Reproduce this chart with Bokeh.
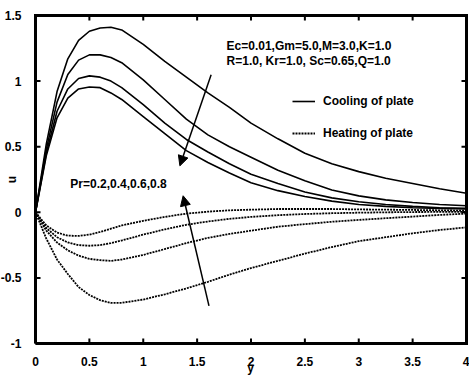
from bokeh.plotting import figure
from bokeh.models import (Range1d, LinearAxis, FixedTicker, Arrow, Label,
                          NormalHead, Legend, LegendItem)
from bokeh.embed import file_html
from bokeh.resources import INLINE

# ---------------- data ----------------
y_grid = [0, 0.1, 0.2, 0.3, 0.4, 0.5, 0.6, 0.7, 0.8, 1.0, 1.2, 1.4, 1.6, 1.8,
          2.0, 2.25, 2.5, 2.75, 3.0, 3.25, 3.5, 3.75, 4.0]

# Cooling of plate (solid), Pr = 0.2, 0.4, 0.6, 0.8
cool_pr02 = [0, 0.52, 0.92, 1.17, 1.31, 1.38, 1.405, 1.41, 1.39, 1.28, 1.15, 1.03,
             0.91, 0.80, 0.68, 0.56, 0.45, 0.37, 0.31, 0.26, 0.22, 0.18, 0.145]
cool_pr04 = [0, 0.48, 0.84, 1.05, 1.16, 1.20, 1.20, 1.18, 1.14, 1.01, 0.86, 0.71,
             0.59, 0.50, 0.42, 0.32, 0.24, 0.17, 0.125, 0.095, 0.075, 0.06, 0.05]
cool_pr06 = [0, 0.45, 0.77, 0.94, 1.02, 1.04, 1.03, 1.00, 0.95, 0.82, 0.68, 0.555,
             0.46, 0.37, 0.29, 0.22, 0.155, 0.11, 0.08, 0.06, 0.045, 0.035, 0.03]
cool_pr08 = [0, 0.43, 0.72, 0.87, 0.94, 0.955, 0.95, 0.91, 0.86, 0.73, 0.60, 0.47,
             0.38, 0.30, 0.225, 0.165, 0.12, 0.085, 0.06, 0.045, 0.035, 0.03, 0.025]

# Heating of plate (dotted), Pr = 0.2, 0.4, 0.6, 0.8
heat_pr02 = [0, -0.10, -0.155, -0.178, -0.18, -0.17, -0.15, -0.125, -0.10, -0.065,
             -0.035, -0.01, 0.005, 0.015, 0.02, 0.025, 0.025, 0.025, 0.022, 0.02,
             0.018, 0.015, 0.012]
heat_pr04 = [0, -0.12, -0.19, -0.23, -0.25, -0.255, -0.25, -0.235, -0.215, -0.17,
             -0.13, -0.095, -0.07, -0.05, -0.035, -0.022, -0.013, -0.007, -0.003,
             0.0, 0.002, 0.003, 0.004]
heat_pr06 = [0, -0.14, -0.23, -0.29, -0.33, -0.355, -0.365, -0.37, -0.36, -0.325,
             -0.28, -0.235, -0.195, -0.165, -0.14, -0.11, -0.09, -0.072, -0.058,
             -0.045, -0.033, -0.02, -0.01]
heat_pr08 = [0, -0.20, -0.36, -0.47, -0.57, -0.63, -0.67, -0.69, -0.69, -0.665,
             -0.625, -0.58, -0.53, -0.475, -0.425, -0.37, -0.315, -0.265, -0.22,
             -0.19, -0.16, -0.135, -0.115]

x_ticks = [0, 0.5, 1, 1.5, 2, 2.5, 3, 3.5, 4]
x_tick_labels = ["0", "0.5", "1", "1.5", "2", "2.5", "3", "3.5", "4"]
u_ticks = [-1, -0.5, 0, 0.5, 1, 1.5]
u_tick_labels = ["-1", "-0.5", "0", "0.5", "1", "1.5"]

x_title = "y"
u_title = "u"
param_line1 = "Ec=0.01,Gm=5.0,M=3.0,K=1.0"
param_line2 = "R=1.0, Kr=1.0, Sc=0.65,Q=1.0"
pr_text = "Pr=0.2,0.4,0.6,0.8"
legend_labels = ["Cooling of plate", "Heating of plate"]

# ---------------- layout ----------------
FONT = "Liberation Sans"
FS = "12px"
x_lo, x_hi = x_ticks[0], x_ticks[-1]
u_lo, u_hi = u_ticks[0], u_ticks[-1]
W, H = 469, 377
ML, MR, MT, MB = 31, 0, 11, 30          # canvas borders around the frame
PL, PR, PT, PB = 4, 3, 4, 4             # gap between frame edge and drawn box (px)

box_w = W - ML - MR - PL - PR
box_h = H - MT - MB - PT - PB
sx = box_w / (x_hi - x_lo)
sy = box_h / (u_hi - u_lo)

p = figure(width=W, height=H, output_backend="svg", toolbar_location=None,
           x_range=Range1d(x_lo - PL / sx, x_hi + PR / sx),
           y_range=Range1d(u_lo - PB / sy, u_hi + PT / sy),
           min_border_left=ML, min_border_right=MR, min_border_top=MT,
           min_border_bottom=MB, x_axis_location=None, y_axis_location=None)
p.background_fill_color = "white"
p.border_fill_color = "white"
p.outline_line_color = None
p.xgrid.visible = False
p.ygrid.visible = False


def style_axis(ax, ticks, labels):
    ax.ticker = FixedTicker(ticks=ticks)
    ax.major_label_overrides = {t: l for t, l in zip(ticks, labels)}
    ax.axis_line_color = None
    ax.major_tick_in = 0
    ax.major_tick_out = 0
    ax.major_tick_line_color = None
    ax.minor_tick_line_color = None
    ax.major_label_text_font = FONT
    ax.major_label_text_font_style = "bold"
    ax.major_label_text_font_size = FS
    ax.major_label_text_color = "black"
    ax.axis_label_text_font = FONT
    ax.axis_label_text_font_style = "bold"
    ax.axis_label_text_font_size = FS
    ax.axis_label_text_color = "black"


bottom = LinearAxis(axis_label=x_title)
style_axis(bottom, x_ticks, x_tick_labels)
bottom.major_label_standoff = PB + 5
bottom.axis_label_standoff = -8
p.add_layout(bottom, "below")

left = LinearAxis(axis_label=u_title)
style_axis(left, u_ticks, u_tick_labels)
left.major_label_standoff = PL + 6
left.axis_label_standoff = -21
p.add_layout(left, "left")

# ---------------- data lines ----------------
solid_rs = []
for s in [cool_pr02, cool_pr04, cool_pr06, cool_pr08]:
    r = p.line(y_grid, s, line_color="black", line_width=1.6)
    solid_rs.append(r)
dot_rs = []
for s in [heat_pr02, heat_pr04, heat_pr06, heat_pr08]:
    r = p.line(y_grid, s, line_color="black", line_width=1.8, line_dash="2 1")
    dot_rs.append(r)

# ---------------- box and inward ticks ----------------
p.line([x_lo, x_hi, x_hi, x_lo, x_lo], [u_lo, u_lo, u_hi, u_hi, u_lo],
       line_color="black", line_width=3, line_join="miter")
dx = 5.0 / sx
du = 5.0 / sy
nx, nu = len(x_ticks), len(u_ticks)
p.segment(x0=x_ticks, y0=[u_lo] * nx, x1=x_ticks, y1=[u_lo + du] * nx,
          line_color="black", line_width=2)
p.segment(x0=x_ticks, y0=[u_hi] * nx, x1=x_ticks, y1=[u_hi - du] * nx,
          line_color="black", line_width=2)
p.segment(x0=[x_lo] * nu, y0=u_ticks, x1=[x_lo + dx] * nu, y1=u_ticks,
          line_color="black", line_width=2)
p.segment(x0=[x_hi] * nu, y0=u_ticks, x1=[x_hi - dx] * nu, y1=u_ticks,
          line_color="black", line_width=2)

# ---------------- legend and annotations ----------------
legend = Legend(items=[LegendItem(label=legend_labels[0], renderers=[solid_rs[0]]),
                       LegendItem(label=legend_labels[1], renderers=[dot_rs[0]])],
                location=(261, 204), orientation="vertical",
                glyph_width=23, glyph_height=20, label_height=20,
                label_standoff=8, spacing=12, padding=0, margin=0,
                border_line_alpha=0, background_fill_alpha=0,
                label_text_font=FONT, label_text_font_style="bold",
                label_text_font_size=FS, label_text_color="black")
p.add_layout(legend, "center")

for txt, lx, ly in [(param_line1, 1.773, 1.269), (param_line2, 1.773, 1.155),
                    (pr_text, 0.323, 0.217)]:
    p.add_layout(Label(x=lx, y=ly, text=txt, text_font=FONT, text_font_style="bold",
                       text_font_size=FS, text_baseline="middle", text_align="left",
                       text_color="black"))

p.add_layout(Arrow(x_start=1.63, y_start=1.048, x_end=1.34, y_end=0.354,
                   line_width=1.5, line_color="black",
                   end=NormalHead(size=10, fill_color="black", line_color="black")))
p.add_layout(Arrow(x_start=1.61, y_start=-0.713, x_end=1.37, y_end=0.126,
                   line_width=1.5, line_color="black",
                   end=NormalHead(size=10, fill_color="black", line_color="black")))

open("out.html", "w").write(file_html(p, INLINE))
